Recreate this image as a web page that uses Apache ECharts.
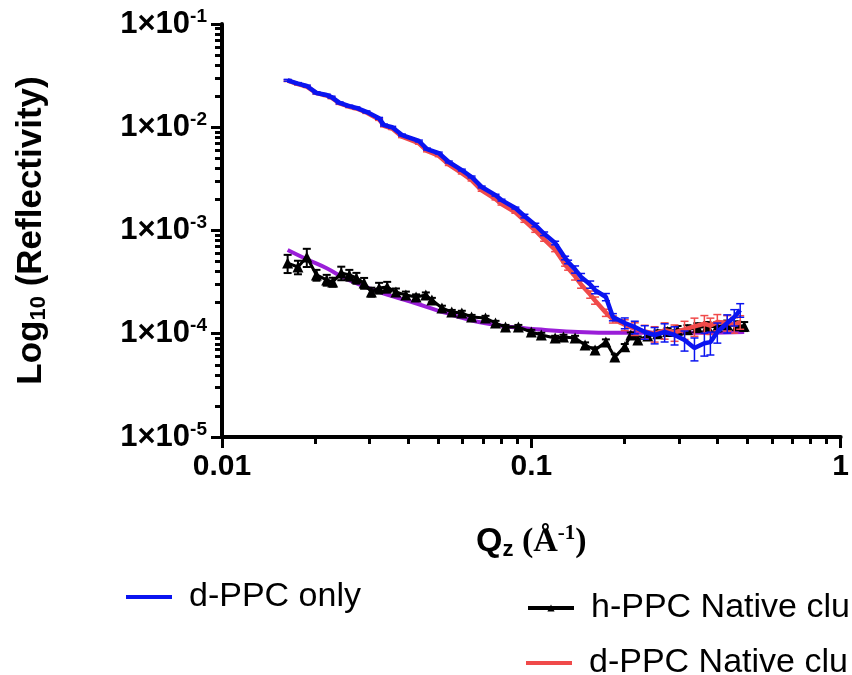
<!DOCTYPE html>
<html>
<head>
<meta charset="utf-8">
<script src="https://cdn.jsdelivr.net/npm/echarts@6/dist/echarts.min.js"></script>
<style>
  html, body { margin: 0; padding: 0; background: #fff; }
  #chart { width: 852px; height: 675px; }
</style>
</head>
<body>
<div id="chart"></div>
<script>
// Qz (1/Å) and reflectivity
const dppcQ = [0.0163, 0.0176, 0.0188, 0.0202, 0.0218, 0.0226, 0.0240, 0.0258, 0.0272, 0.0293,
  0.0322, 0.0334, 0.0355, 0.0382, 0.0433, 0.0460, 0.0502, 0.0541, 0.0596, 0.0641,
  0.0691, 0.0766, 0.0801, 0.0888, 0.0950, 0.1030, 0.1100, 0.1194, 0.1286, 0.1315,
  0.1385, 0.1448, 0.1550, 0.1607, 0.1742, 0.1835, 0.2005, 0.2160, 0.2326, 0.2504,
  0.2697, 0.2904, 0.3128, 0.3368, 0.3626, 0.3792, 0.3993, 0.4299, 0.4529, 0.4734];

const dppcOnly = [2.85e-2, 2.65e-2, 2.51e-2, 2.15e-2, 2.05e-2, 1.96e-2, 1.72e-2, 1.60e-2, 1.54e-2, 1.41e-2,
  1.22e-2, 1.05e-2, 1.00e-2, 8.41e-3, 7.36e-3, 6.15e-3, 5.63e-3, 4.61e-3, 3.85e-3, 3.30e-3,
  2.64e-3, 2.20e-3, 1.97e-3, 1.65e-3, 1.38e-3, 1.13e-3, 9.3e-4, 7.57e-4, 5.42e-4, 4.96e-4,
  4.2e-4, 3.55e-4, 3.0e-4, 2.65e-4, 2.27e-4, 1.45e-4, 1.27e-4, 1.16e-4, 1.04e-4, 9.73e-5,
  1.04e-4, 9.73e-5, 8.71e-5, 7.28e-5, 8.1e-5, 8.3e-5, 1.04e-4, 1.27e-4, 1.45e-4, 1.70e-4];
// relative error
const dppcOnlyErr = [0.02, 0.02, 0.02, 0.02, 0.02, 0.02, 0.02, 0.02, 0.02, 0.02,
  0.02, 0.02, 0.02, 0.02, 0.02, 0.02, 0.02, 0.02, 0.02, 0.02,
  0.02, 0.02, 0.02, 0.02, 0.04, 0.04, 0.04, 0.04, 0.04, 0.04,
  0.08, 0.08, 0.08, 0.08, 0.08, 0.08, 0.12, 0.14, 0.15, 0.18,
  0.2, 0.2, 0.22, 0.25, 0.25, 0.25, 0.22, 0.2, 0.18, 0.15];

const dppcNative = [2.83e-2, 2.62e-2, 2.48e-2, 2.14e-2, 2.03e-2, 1.93e-2, 1.70e-2, 1.58e-2, 1.52e-2, 1.39e-2,
  1.19e-2, 1.03e-2, 9.7e-3, 8.1e-3, 7.0e-3, 5.9e-3, 5.3e-3, 4.35e-3, 3.6e-3, 3.08e-3,
  2.45e-3, 2.02e-3, 1.80e-3, 1.50e-3, 1.25e-3, 1.00e-3, 8.2e-4, 6.5e-4, 4.7e-4, 4.3e-4,
  3.6e-4, 3.0e-4, 2.4e-4, 2.1e-4, 1.6e-4, 1.38e-4, 1.22e-4, 1.12e-4, 1.05e-4, 1.0e-4,
  1.08e-4, 1.03e-4, 1.1e-4, 1.18e-4, 1.25e-4, 1.2e-4, 1.3e-4, 1.28e-4, 1.22e-4, 1.30e-4];
const dppcNativeErr = [0.02, 0.02, 0.02, 0.02, 0.02, 0.02, 0.02, 0.02, 0.02, 0.02,
  0.02, 0.02, 0.02, 0.02, 0.02, 0.02, 0.02, 0.02, 0.02, 0.02,
  0.02, 0.02, 0.02, 0.02, 0.04, 0.04, 0.04, 0.04, 0.04, 0.04,
  0.08, 0.08, 0.08, 0.08, 0.08, 0.08, 0.12, 0.14, 0.15, 0.17,
  0.18, 0.18, 0.2, 0.2, 0.2, 0.18, 0.18, 0.17, 0.17, 0.15];

const hppcQ = [0.0163, 0.0176, 0.0188, 0.0202, 0.0218, 0.0228, 0.0243, 0.0258, 0.0272, 0.0288,
  0.0304, 0.0322, 0.0342, 0.0365, 0.0393, 0.0424, 0.0456, 0.0477, 0.0514, 0.0553,
  0.0596, 0.0641, 0.0711, 0.0766, 0.0825, 0.0908, 0.1000, 0.1077, 0.1194, 0.1270,
  0.1385, 0.1492, 0.1607, 0.1742, 0.1862, 0.2005, 0.2097, 0.2209, 0.2379, 0.2561,
  0.2758, 0.2970, 0.3198, 0.3443, 0.3708, 0.3993, 0.4299, 0.4630, 0.4877];
const hppcNative = [4.84e-4, 4.43e-4, 5.54e-4, 3.71e-4, 3.32e-4, 3.17e-4, 3.88e-4, 3.71e-4, 3.47e-4, 3.10e-4,
  2.54e-4, 2.78e-4, 2.84e-4, 2.54e-4, 2.37e-4, 2.27e-4, 2.37e-4, 2.12e-4, 1.78e-4, 1.62e-4,
  1.59e-4, 1.45e-4, 1.42e-4, 1.27e-4, 1.16e-4, 1.16e-4, 1.04e-4, 9.73e-5, 9.1e-5, 9.3e-5,
  9.1e-5, 7.78e-5, 6.97e-5, 8.32e-5, 5.96e-5, 7.5e-5, 9.73e-5, 8.71e-5, 9.5e-5, 1.0e-4,
  1.05e-4, 1.08e-4, 1.1e-4, 1.15e-4, 1.18e-4, 1.17e-4, 1.22e-4, 1.2e-4, 1.18e-4];
const hppcNativeErr = [0.2, 0.15, 0.2, 0.12, 0.12, 0.1, 0.15, 0.12, 0.12, 0.12,
  0.1, 0.12, 0.12, 0.08, 0.08, 0.06, 0.06, 0.05, 0.05, 0.05,
  0.05, 0.05, 0.05, 0.05, 0.05, 0.05, 0.05, 0.05, 0.05, 0.05,
  0.05, 0.06, 0.06, 0.06, 0.06, 0.06, 0.06, 0.08, 0.08, 0.08,
  0.08, 0.1, 0.1, 0.1, 0.1, 0.1, 0.1, 0.1, 0.1];

// fitted curve for h-PPC
const fitQ = [0.0163, 0.0188, 0.0218, 0.0252, 0.0322, 0.0411, 0.0529, 0.0676, 0.0863, 0.1109, 0.1416, 0.1905, 0.2970, 0.4877];
const fitR = [6.47e-4, 5.26e-4, 4.31e-4, 3.4e-4, 2.54e-4, 2.03e-4, 1.59e-4, 1.30e-4, 1.16e-4, 1.09e-4, 1.04e-4, 1.02e-4, 1.02e-4, 1.04e-4];

// axis ticks
const xMajor = [0.01, 0.1, 1];
const yMajor = [1e-5, 1e-4, 1e-3, 1e-2, 1e-1];
const mantissas = [2, 3, 4, 5, 6, 7, 8, 9];

const legendNames = ['d-PPC only', 'h-PPC Native clu', 'd-PPC Native clu'];

const FONT = '"Liberation Sans", Arial, sans-serif';
const SERIF = '"Liberation Serif", "Times New Roman", serif';

const BLUE = '#0A14F0';
const RED = '#F04A4A';
const PURPLE = '#9A1ED8';

const xMinor = [];
[0.01, 0.1].forEach(d => mantissas.forEach(m => xMinor.push(+(m * d).toPrecision(3))));
const yMinor = [];
[1e-5, 1e-4, 1e-3, 1e-2].forEach(d => mantissas.forEach(m => yMinor.push(+(m * d).toPrecision(3))));

function zip(q, r, e) {
  return q.map((v, i) => e ? [v, r[i], e[i]] : [v, r[i]]);
}

function errorBars(color, width) {
  return function (params, api) {
    const q = api.value(0), r = api.value(1), e = api.value(2);
    const top = api.coord([q, r * (1 + e)]);
    const bot = api.coord([q, r * (1 - e)]);
    const w = 4;
    const st = { stroke: color, lineWidth: width };
    return {
      type: 'group',
      children: [
        { type: 'line', shape: { x1: top[0], y1: top[1], x2: bot[0], y2: bot[1] }, style: st },
        { type: 'line', shape: { x1: top[0] - w, y1: top[1], x2: top[0] + w, y2: top[1] }, style: st },
        { type: 'line', shape: { x1: bot[0] - w, y1: bot[1], x2: bot[0] + w, y2: bot[1] }, style: st }
      ]
    };
  };
}

function legendAt(item, left, top, h) {
  return {
    data: [item],
    left: left, top: top,
    itemWidth: 46, itemHeight: h,
    lineStyle: { width: 4 },
    textStyle: { fontFamily: FONT, fontSize: 34, color: '#000', padding: [0, 0, 0, 12] }
  };
}

const chart = echarts.init(document.getElementById('chart'));

const axisLine = { show: true, lineStyle: { color: '#000', width: 4 } };

chart.setOption({
  animation: false,
  backgroundColor: '#fff',
  grid: { left: 222, right: 9, top: 24, bottom: 238, containLabel: false },
  legend: [
    legendAt({ name: legendNames[0], icon: 'rect', itemStyle: { color: BLUE } }, 121, 575, 4),
    legendAt({ name: legendNames[1] }, 521, 586, 9),
    legendAt({ name: legendNames[2], icon: 'rect', itemStyle: { color: RED } }, 521, 641, 4)
  ],
  xAxis: [
    {
      type: 'log', logBase: 10, min: 0.01, max: 1,
      axisLine: axisLine,
      splitLine: { show: false },
      axisTick: { show: true, customValues: xMajor, length: 11, lineStyle: { color: '#000', width: 3 } },
      axisLabel: {
        customValues: xMajor, margin: 15,
        fontFamily: FONT, fontSize: 30, fontWeight: 'bold', color: '#000',
        formatter: v => String(v)
      },
      name: '{q|Q}{z|z}{p| (Å}{s|-1}{p|)}',
      nameLocation: 'middle', nameGap: 86,
      nameTextStyle: {
        rich: {
          q: { fontFamily: FONT, fontSize: 34, fontWeight: 'bold', color: '#000' },
          z: { fontFamily: FONT, fontSize: 22, fontWeight: 'bold', color: '#000', padding: [16, 0, 0, 0] },
          p: { fontFamily: SERIF, fontSize: 34, fontWeight: 'bold', color: '#000' },
          s: { fontFamily: SERIF, fontSize: 21, fontWeight: 'bold', color: '#000', padding: [0, 0, 16, 0] }
        }
      }
    },
    {
      type: 'log', logBase: 10, min: 0.01, max: 1, position: 'bottom',
      axisLine: { show: false },
      splitLine: { show: false },
      axisLabel: { show: false },
      axisTick: { show: true, customValues: xMinor, length: 7, lineStyle: { color: '#000', width: 3 } }
    }
  ],
  yAxis: [
    {
      type: 'log', logBase: 10, min: 1e-5, max: 1e-1,
      axisLine: axisLine,
      splitLine: { show: false },
      axisTick: { show: true, customValues: yMajor, length: 11, lineStyle: { color: '#000', width: 3 } },
      axisLabel: {
        customValues: yMajor, margin: 15,
        formatter: v => '{m|1×10}{e|' + Math.round(Math.log10(v)) + '}',
        rich: {
          m: { fontFamily: FONT, fontSize: 31, fontWeight: 'bold', color: '#000' },
          e: { fontFamily: FONT, fontSize: 19, fontWeight: 'bold', color: '#000', padding: [0, 0, 15, 0] }
        }
      },
      name: '{a|Log}{b|10}{a| (Reflectivity)}',
      nameLocation: 'middle', nameRotate: 90, nameGap: 172,
      nameTextStyle: {
        rich: {
          a: { fontFamily: FONT, fontSize: 35, fontWeight: 'bold', color: '#000' },
          b: { fontFamily: FONT, fontSize: 22, fontWeight: 'bold', color: '#000', padding: [16, 0, 0, 0] }
        }
      }
    },
    {
      type: 'log', logBase: 10, min: 1e-5, max: 1e-1, position: 'left',
      axisLine: { show: false },
      splitLine: { show: false },
      axisLabel: { show: false },
      axisTick: { show: true, customValues: yMinor, length: 7, lineStyle: { color: '#000', width: 3 } }
    }
  ],
  series: [
    {
      name: 'fit', type: 'line', data: zip(fitQ, fitR),
      smooth: 0.4, symbol: 'none', z: 2,
      lineStyle: { color: PURPLE, width: 4 }
    },
    {
      type: 'custom', data: zip(hppcQ, hppcNative, hppcNativeErr),
      renderItem: errorBars('#000', 2), encode: { x: 0, y: 1 }, z: 3
    },
    {
      name: legendNames[1], type: 'line', data: zip(hppcQ, hppcNative),
      symbol: 'triangle', symbolSize: 11, z: 3,
      itemStyle: { color: '#000' },
      lineStyle: { color: '#000', width: 3 }
    },
    {
      type: 'custom', data: zip(dppcQ, dppcNative, dppcNativeErr),
      renderItem: errorBars(RED, 1.5), encode: { x: 0, y: 1 }, z: 4
    },
    {
      name: legendNames[2], type: 'line', data: zip(dppcQ, dppcNative),
      symbol: 'none', z: 4,
      itemStyle: { color: RED },
      lineStyle: { color: RED, width: 4.5 }
    },
    {
      type: 'custom', data: zip(dppcQ, dppcOnly, dppcOnlyErr),
      renderItem: errorBars(BLUE, 1.5), encode: { x: 0, y: 1 }, z: 5
    },
    {
      name: legendNames[0], type: 'line', data: zip(dppcQ, dppcOnly),
      symbol: 'none', z: 5,
      itemStyle: { color: BLUE },
      lineStyle: { color: BLUE, width: 4.5 }
    }
  ]
});
</script>
</body>
</html>
